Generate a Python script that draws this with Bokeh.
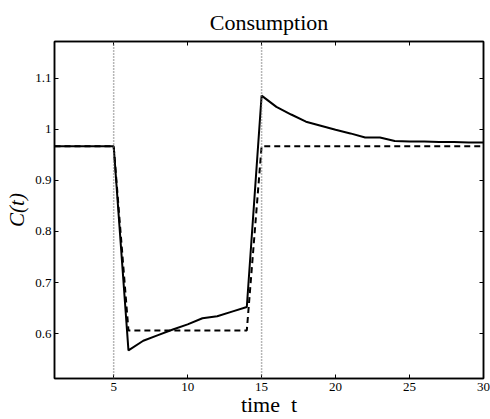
from bokeh.plotting import figure
from bokeh.models import (ColumnDataSource, Range1d, FixedTicker, LinearAxis,
                          Span, CustomJSTickFormatter)
from bokeh.embed import file_html
from bokeh.resources import INLINE

# ---- data ----
t = list(range(1, 31))
consumption = [0.967, 0.967, 0.967, 0.967, 0.967,
               0.567, 0.586, 0.597, 0.608, 0.618, 0.630, 0.634, 0.643, 0.652,
               1.066, 1.044, 1.029, 1.015, 1.007, 0.999, 0.992, 0.984, 0.984,
               0.977, 0.976, 0.976, 0.975, 0.975, 0.974, 0.974]
benchmark = [0.967, 0.967, 0.967, 0.967, 0.967,
             0.606, 0.606, 0.606, 0.606, 0.606, 0.606, 0.606, 0.606, 0.606,
             0.967, 0.967, 0.967, 0.967, 0.967, 0.967, 0.967, 0.967, 0.967,
             0.967, 0.967, 0.967, 0.967, 0.967, 0.967, 0.967]
shock_times = [5, 15]
x_ticks = [5, 10, 15, 20, 25, 30]
y_ticks = [0.6, 0.7, 0.8, 0.9, 1.0, 1.1]
y_tick_labels = {0.6: "0.6", 0.7: "0.7", 0.8: "0.8", 0.9: "0.9", 1.0: "1", 1.1: "1.1"}
title_text = "Consumption"
xlabel_text = "time\u00a0 t"
ylabel_text = "C(t)"

SERIF = "Liberation Serif"
W, H = 490, 419
FL, FT, FR, FB = 54, 41, 483, 379   # frame edges in page pixels

p = figure(width=W, height=H, output_backend="svg", toolbar_location=None,
           x_range=Range1d(1, 30), y_range=Range1d(0.512, 1.172),
           min_border_left=FL, min_border_top=FT, min_border_right=W - FR,
           min_border_bottom=H - FB)
p.background_fill_color = "white"
p.border_fill_color = "white"
p.grid.visible = False
p.outline_line_color = "black"
p.outline_line_width = 1.5

p.title.text = title_text
p.title.align = "center"
p.title.text_font = SERIF
p.title.text_font_size = "22px"
p.title.text_font_style = "normal"
p.title.text_color = "black"
p.title.standoff = 14

src = ColumnDataSource(dict(t=t, c=consumption, b=benchmark))

for loc in shock_times:
    p.add_layout(Span(location=loc, dimension="height", line_color="#6e6e6e",
                      line_width=1.5, line_dash="1 2"))

p.line("t", "b", source=src, line_color="black", line_width=2, line_dash="6 4")
p.line("t", "c", source=src, line_color="black", line_width=2)

def style_axis(ax, standoff):
    ax.axis_line_color = "black"
    ax.axis_line_width = 1.5
    ax.major_tick_in = 4
    ax.major_tick_out = 0
    ax.minor_tick_line_color = None
    ax.major_tick_line_color = "black"
    ax.major_tick_line_width = 1
    ax.major_label_text_font = SERIF
    ax.major_label_text_font_size = "13px"
    ax.major_label_text_color = "black"
    ax.major_label_standoff = standoff

xt = FixedTicker(ticks=x_ticks)
yt = FixedTicker(ticks=y_ticks)

xa = p.xaxis[0]
ya = p.yaxis[0]
xa.ticker = xt
ya.ticker = yt
ya.major_label_overrides = y_tick_labels
style_axis(xa, 4)
style_axis(ya, 3)

xa.axis_label = xlabel_text
xa.axis_label_text_font = SERIF
xa.axis_label_text_font_size = "22px"
xa.axis_label_text_font_style = "normal"
xa.axis_label_text_color = "black"
xa.axis_label_standoff = -2

ya.axis_label = ylabel_text
ya.axis_label_text_font = SERIF
ya.axis_label_text_font_size = "21px"
ya.axis_label_text_font_style = "italic"
ya.axis_label_text_color = "black"
ya.axis_label_standoff = 3

blank = CustomJSTickFormatter(code="return ''")
top_ax = LinearAxis(ticker=xt, formatter=blank)
style_axis(top_ax, 0)
p.add_layout(top_ax, "above")
right_ax = LinearAxis(ticker=yt, formatter=blank)
style_axis(right_ax, 0)
p.add_layout(right_ax, "right")

open("out.html", "w").write(file_html(p, INLINE))
